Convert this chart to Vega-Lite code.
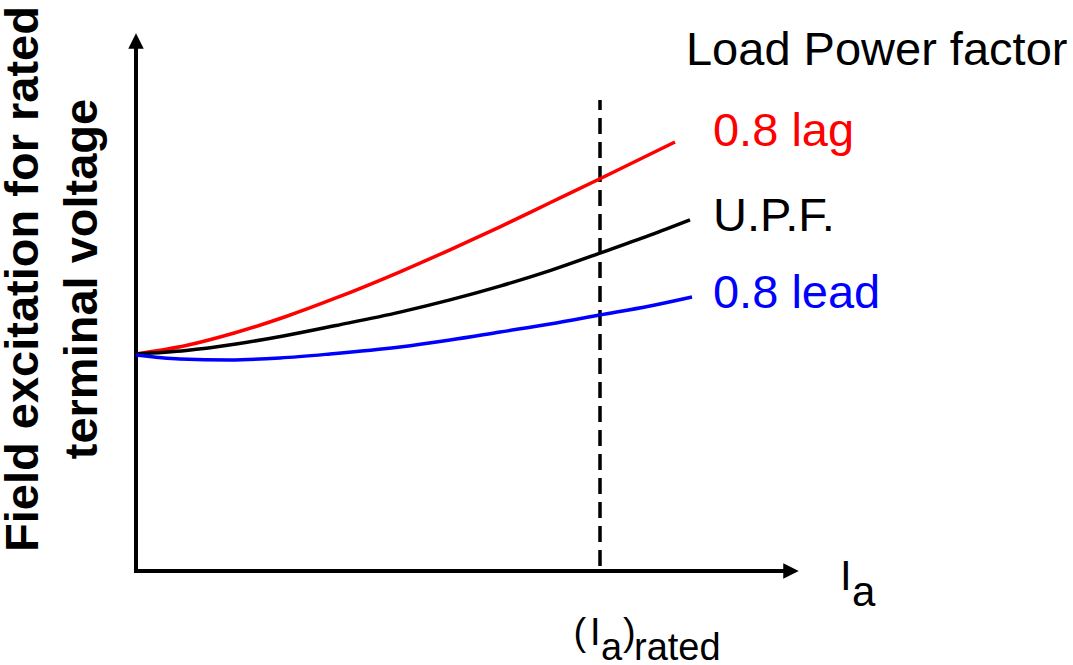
{
  "$schema": "https://vega.github.io/schema/vega-lite/v6.json",
  "width": 1073,
  "height": 665,
  "autosize": {"type": "none"},
  "padding": 0,
  "background": "white",
  "config": {"view": {"stroke": null}},
  "datasets": {
    "curves": [
      {"series": "0.8 lag", "x": 0, "y": 1.0},
      {"series": "0.8 lag", "x": 0.1078, "y": 1.0392},
      {"series": "0.8 lag", "x": 0.2155, "y": 1.0991},
      {"series": "0.8 lag", "x": 0.3233, "y": 1.1728},
      {"series": "0.8 lag", "x": 0.431, "y": 1.2581},
      {"series": "0.8 lag", "x": 0.569, "y": 1.3788},
      {"series": "0.8 lag", "x": 0.6767, "y": 1.4802},
      {"series": "0.8 lag", "x": 0.7845, "y": 1.5862},
      {"series": "0.8 lag", "x": 0.8922, "y": 1.6968},
      {"series": "0.8 lag", "x": 1.0, "y": 1.8074},
      {"series": "0.8 lag", "x": 1.1616, "y": 1.977},
      {"series": "U.P.F.", "x": 0, "y": 1.0},
      {"series": "U.P.F.", "x": 0.1078, "y": 1.0161},
      {"series": "U.P.F.", "x": 0.2155, "y": 1.0461},
      {"series": "U.P.F.", "x": 0.3233, "y": 1.0853},
      {"series": "U.P.F.", "x": 0.431, "y": 1.1313},
      {"series": "U.P.F.", "x": 0.569, "y": 1.1931},
      {"series": "U.P.F.", "x": 0.6767, "y": 1.2493},
      {"series": "U.P.F.", "x": 0.7845, "y": 1.3129},
      {"series": "U.P.F.", "x": 0.8922, "y": 1.3843},
      {"series": "U.P.F.", "x": 1.0, "y": 1.465},
      {"series": "U.P.F.", "x": 1.1078, "y": 1.5479},
      {"series": "U.P.F.", "x": 1.194, "y": 1.6184},
      {"series": "0.8 lead", "x": 0, "y": 0.9954},
      {"series": "0.8 lead", "x": 0.0948, "y": 0.977},
      {"series": "0.8 lead", "x": 0.2026, "y": 0.9724},
      {"series": "0.8 lead", "x": 0.3103, "y": 0.9816},
      {"series": "0.8 lead", "x": 0.4181, "y": 1.0},
      {"series": "0.8 lead", "x": 0.569, "y": 1.0323},
      {"series": "0.8 lead", "x": 0.6767, "y": 1.0645},
      {"series": "0.8 lead", "x": 0.7845, "y": 1.1014},
      {"series": "0.8 lead", "x": 0.8922, "y": 1.1382},
      {"series": "0.8 lead", "x": 1.0, "y": 1.1797},
      {"series": "0.8 lead", "x": 1.1078, "y": 1.2212},
      {"series": "0.8 lead", "x": 1.1983, "y": 1.2627}
    ],
    "axes": [
      {"x": 0, "y": 0, "x2": 0, "y2": 2.424},
      {"x": 0, "y": 0, "x2": 1.403, "y2": 0}
    ],
    "arrows": [
      {"dir": "up", "x": 0, "y": 2.442},
      {"dir": "right", "x": 1.4116, "y": 0}
    ],
    "rated": [
      {"x": 1.0, "y": 0.023, "y2": 2.1705}
    ],
    "labels": [
      {"series": "Load Power factor", "text": "Load Power factor", "x": 1.1853, "y": 2.3318},
      {"series": "0.8 lag", "text": "0.8 lag", "x": 1.2435, "y": 1.9585},
      {"series": "U.P.F.", "text": "U.P.F.", "x": 1.2435, "y": 1.5668},
      {"series": "0.8 lead", "text": "0.8 lead", "x": 1.2435, "y": 1.212}
    ],
    "ytitle": [
      {"text": "Field excitation for rated\nterminal voltage", "x": -0.2112, "y": 1.3456}
    ],
    "axislabel": [
      {"text": "I", "x": 1.5172, "y": -0.0876},
      {"text": "a", "x": 1.5431, "y": -0.1613}
    ],
    "ratedlabel": [
      {"text": "(", "x": 0.9429, "y": -0.341},
      {"text": "I", "x": 0.9784, "y": -0.341},
      {"text": "a", "x": 1.0022, "y": -0.4101},
      {"text": ")", "x": 1.0496, "y": -0.341},
      {"text": "rated", "x": 1.0733, "y": -0.4101}
    ]
  },
  "encoding": {
    "x": {"field": "x", "type": "quantitative", "scale": {"domain": [-0.2931, 2.0194], "nice": false, "zero": false}, "axis": null},
    "y": {"field": "y", "type": "quantitative", "scale": {"domain": [-0.4332, 2.6313], "nice": false, "zero": false}, "axis": null}
  },
  "layer": [
    {
      "data": {"name": "axes"},
      "mark": {"type": "rule", "stroke": "black", "strokeWidth": 4, "strokeCap": "square"},
      "encoding": {"x2": {"field": "x2"}, "y2": {"field": "y2"}}
    },
    {
      "data": {"name": "arrows"},
      "mark": {"type": "point", "filled": true, "color": "black", "opacity": 1, "size": 240, "strokeWidth": 0},
      "encoding": {
        "shape": {"field": "dir", "type": "nominal", "scale": {"domain": ["up", "right"], "range": ["M-1,1H1L0,-1Z", "M-1,-1V1L1,0Z"]}, "legend": null}
      }
    },
    {
      "data": {"name": "rated"},
      "mark": {"type": "rule", "stroke": "black", "strokeWidth": 3.5, "strokeDash": [16, 8]},
      "encoding": {"y2": {"field": "y2"}}
    },
    {
      "data": {"name": "curves"},
      "mark": {"type": "line", "interpolate": "monotone", "strokeWidth": 3.5},
      "encoding": {
        "color": {"field": "series", "type": "nominal", "scale": {"domain": ["0.8 lag", "U.P.F.", "0.8 lead", "Load Power factor"], "range": ["#ff0000", "#000000", "#0000ff", "#000000"]}, "legend": null}
      }
    },
    {
      "data": {"name": "labels"},
      "mark": {"type": "text", "align": "left", "baseline": "alphabetic", "fontSize": 47, "font": "Liberation Sans, Arial, sans-serif"},
      "encoding": {
        "text": {"field": "text"},
        "color": {"field": "series", "type": "nominal", "legend": null}
      }
    },
    {
      "data": {"name": "ytitle"},
      "mark": {"type": "text", "align": "center", "baseline": "alphabetic", "angle": 270, "fontSize": 47, "fontWeight": "bold", "lineHeight": 59, "lineBreak": "\n", "font": "Liberation Sans, Arial, sans-serif", "color": "black"},
      "encoding": {"text": {"field": "text"}}
    },
    {
      "data": {"name": "axislabel"},
      "mark": {"type": "text", "align": "left", "baseline": "alphabetic", "fontSize": 42, "font": "Liberation Sans, Arial, sans-serif", "color": "black"},
      "encoding": {"text": {"field": "text"}}
    },
    {
      "data": {"name": "ratedlabel"},
      "mark": {"type": "text", "align": "left", "baseline": "alphabetic", "fontSize": 38, "font": "Liberation Sans, Arial, sans-serif", "color": "black"},
      "encoding": {"text": {"field": "text"}}
    }
  ]
}
